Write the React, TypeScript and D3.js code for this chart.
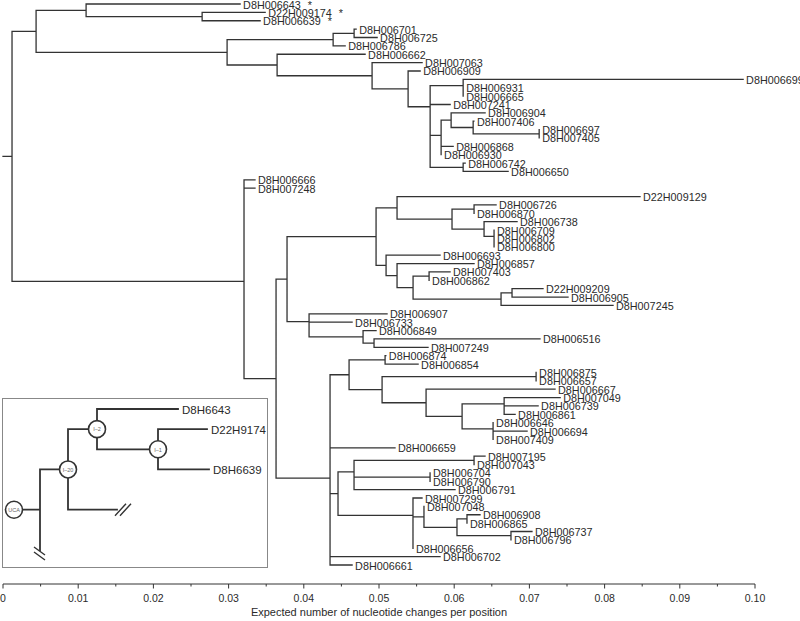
import React from "react";
import * as d3 from "d3";

// [node id, parent id, branch length (substitutions / site)]; internal node ids start with "_"
const treeNodes: [string, string, number][] = [
  ["_root", "", 0],
  ["_n0", "_root", 0.0012],
  ["_a", "_n0", 0.0032],
  ["_b", "_a", 0.00665],
  ["D8H006643", "_b", 0.02048],
  ["_c", "_b", 0.01543],
  ["D22H009174", "_c", 0.00838],
  ["D8H006639", "_c", 0.00771],
  ["_d", "_a", 0.0254],
  ["_e", "_d", 0.0141],
  ["_f", "_e", 0.00279],
  ["D8H006701", "_f", 0.00027],
  ["D8H006725", "_f", 0.00306],
  ["D8H006786", "_e", 0.0016],
  ["_g", "_d", 0.00665],
  ["D8H006662", "_g", 0.0117],
  ["_h", "_g", 0.01263],
  ["D8H007063", "_h", 0.00665],
  ["_i", "_h", 0.00479],
  ["D8H006909", "_i", 0.0016],
  ["_j", "_i", 0.00293],
  ["_k", "_j", 0.00439],
  ["D8H006699", "_k", 0.03723],
  ["_l", "_k", 0],
  ["D8H006931", "_l", 0],
  ["D8H006665", "_l", 0],
  ["_j2", "_j", 0],
  ["D8H007241", "_j2", 0.00266],
  ["_j3", "_j2", 0],
  ["_m", "_j3", 0.00146],
  ["_n", "_m", 0.00133],
  ["D8H006904", "_n", 0.00452],
  ["_o", "_n", 0.00293],
  ["D8H007406", "_o", 0.0001],
  ["_p", "_o", 0.00878],
  ["D8H006697", "_p", 0],
  ["D8H007405", "_p", 0],
  ["_m2", "_m", 0],
  ["D8H006868", "_m2", 0.0016],
  ["D8H006930", "_m2", 0],
  ["_q", "_j3", 0.00439],
  ["D8H006742", "_q", 0.00027],
  ["D8H006650", "_q", 0.00598],
  ["_r", "_n0", 0.03085],
  ["_r1", "_r", 0],
  ["D8H006666", "_r1", 0.00146],
  ["D8H007248", "_r1", 0.00146],
  ["_t", "_r", 0.00426],
  ["_u", "_t", 0.00146],
  ["_w", "_u", 0.01184],
  ["_w1", "_w", 0.00279],
  ["D22H009129", "_w1", 0.03231],
  ["_w1b", "_w1", 0.00731],
  ["_w1b1", "_w1b", 0.00293],
  ["D8H006726", "_w1b1", 0.00293],
  ["D8H006870", "_w1b1", 0],
  ["_w1b2", "_w1b", 0.00426],
  ["D8H006738", "_w1b2", 0.00439],
  ["_w1b2b", "_w1b2", 0.00133],
  ["D8H006709", "_w1b2b", 0],
  ["_w1b2c", "_w1b2b", 0],
  ["D8H006802", "_w1b2c", 0],
  ["D8H006800", "_w1b2c", 0],
  ["_w2", "_w", 0.00133],
  ["D8H006693", "_w2", 0.00718],
  ["_w2b", "_w2", 0.00146],
  ["D8H006857", "_w2b", 0.01024],
  ["_w2b2", "_w2b", 0.00213],
  ["_w2b2a", "_w2b2", 0.00213],
  ["D8H007403", "_w2b2a", 0.00279],
  ["D8H006862", "_w2b2a", 0],
  ["_w2b2b", "_w2b2", 0.0117],
  ["_w2b2b1", "_w2b2b", 0.00146],
  ["D22H009209", "_w2b2b1", 0.00412],
  ["D8H006905", "_w2b2b1", 0.00745],
  ["D8H007245", "_w2b2b", 0.01489],
  ["_x", "_u", 0.00293],
  ["D8H006907", "_x", 0.01037],
  ["_x0", "_x", 0],
  ["D8H006733", "_x0", 0.00572],
  ["_x1", "_x0", 0.00718],
  ["D8H006849", "_x1", 0.00173],
  ["_x2", "_x1", 0.00146],
  ["D8H006516", "_x2", 0.02207],
  ["D8H007249", "_x2", 0.00718],
  ["_v", "_t", 0.00718],
  ["_va", "_v", 0],
  ["_v1", "_va", 0.00253],
  ["_v1a", "_v1", 0.00479],
  ["D8H006874", "_v1a", 0.0001],
  ["D8H006854", "_v1a", 0.00439],
  ["_v1b", "_v1", 0.00439],
  ["_v1b1", "_v1b", 0.02048],
  ["D8H006875", "_v1b1", 0],
  ["D8H006657", "_v1b1", 0],
  ["_v1b2", "_v1b", 0.00585],
  ["D8H006667", "_v1b2", 0.01715],
  ["_v1b2b", "_v1b2", 0.00479],
  ["_v1b2b1", "_v1b2b", 0.00559],
  ["D8H007049", "_v1b2b1", 0.00745],
  ["_v1b2b1x", "_v1b2b1", 0],
  ["D8H006739", "_v1b2b1x", 0.00452],
  ["D8H006861", "_v1b2b1x", 0.00146],
  ["_v1b2b2", "_v1b2b", 0.00412],
  ["D8H006646", "_v1b2b2", 0],
  ["_v1b2b2x", "_v1b2b2", 0],
  ["D8H006694", "_v1b2b2x", 0.00452],
  ["D8H007409", "_v1b2b2x", 0],
  ["D8H006659", "_va", 0.00864],
  ["_vb", "_v", 0],
  ["_vc", "_vb", 0],
  ["_v2", "_vc", 0.00106],
  ["_v2a", "_v2", 0.00213],
  ["_v2a1", "_v2a", 0.01596],
  ["D8H007195", "_v2a1", 0.00146],
  ["D8H007043", "_v2a1", 0],
  ["_v2ax", "_v2a", 0],
  ["_v2a2", "_v2ax", 0.01011],
  ["D8H006704", "_v2a2", 0],
  ["D8H006790", "_v2a2", 0],
  ["D8H006791", "_v2ax", 0.01343],
  ["_v2b", "_v2", 0.00997],
  ["D8H007299", "_v2b", 0.0012],
  ["_v2bx", "_v2b", 0],
  ["_v2b2", "_v2bx", 0.00146],
  ["D8H007048", "_v2b2", 0],
  ["_v2b2b", "_v2b2", 0.00439],
  ["_v2b2b1", "_v2b2b", 0.00133],
  ["D8H006908", "_v2b2b1", 0.00173],
  ["D8H006865", "_v2b2b1", 0],
  ["_v2b2b2", "_v2b2b", 0.00718],
  ["D8H006737", "_v2b2b2", 0.00279],
  ["D8H006796", "_v2b2b2", 0],
  ["D8H006656", "_v2bx", 0],
  ["D8H006702", "_vc", 0.01463],
  ["D8H006661", "_vb", 0.00293],
];

const starredLeaves = ["D8H006643", "D22H009174", "D8H006639"];

const majorTicks = [0, 0.01, 0.02, 0.03, 0.04, 0.05, 0.06, 0.07, 0.08, 0.09, 0.1];
const majorTickLabels = ["0", "0.01", "0.02", "0.03", "0.04", "0.05", "0.06", "0.07", "0.08", "0.09", "0.10"];
const minorTicks = [0.005, 0.015, 0.025, 0.035, 0.045, 0.055, 0.065, 0.075, 0.085, 0.095];
const axisTitle = "Expected number of nucleotide changes per position";

// inset schematic: [id, parent, depth (schematic units), row, kind]
const insetNodes: [string, string | null, number, number, string][] = [
  ["UCA", null, 0, 5, "circle"],
  ["j0", "UCA", 26, 5, "joint"],
  ["I\u201320", "j0", 54, 3, "circle"],
  ["cut0", "j0", 26, 7, "cutV"],
  ["I\u20132", "I\u201320", 83, 1, "circle"],
  ["cut1", "I\u201320", 103, 5, "cutH"],
  ["D8H6643", "I\u20132", 164, 0, "leaf"],
  ["I\u20131", "I\u20132", 144, 2, "circle"],
  ["D22H9174", "I\u20131", 193, 1, "leaf"],
  ["D8H6639", "I\u20131", 195, 3, "leaf"],
];

const FONT = "'Liberation Sans', Arial, Helvetica, sans-serif";
const INK = "#333";

export default function App() {
  const W = 800;
  const H = 621;
  const x = d3.scaleLinear().domain([0, 0.1]).range([3, 755]);

  const root: any = d3
    .stratify<[string, string, number]>()
    .id((d) => d[0])
    .parentId((d) => (d[1] ? d[1] : null))(treeNodes);

  root.eachBefore((n: any) => {
    n.dist = n.parent ? n.parent.dist + n.data[2] : 0;
  });
  const leaves = root.leaves();
  const y = d3.scaleLinear().domain([0, leaves.length - 1]).range([4, 565]);
  leaves.forEach((l: any, i: number) => (l.yv = y(i)));
  root.eachAfter((n: any) => {
    if (n.children) {
      n.yv = (n.children[0].yv + n.children[n.children.length - 1].yv) / 2;
    }
  });

  let treePath = "";
  root.each((n: any) => {
    if (n.parent && n.dist > n.parent.dist) {
      treePath += `M${x(n.parent.dist)},${n.yv}H${x(n.dist)}`;
    }
    if (n.children && n.children.length > 1) {
      const c0 = n.children[0];
      const c1 = n.children[n.children.length - 1];
      treePath += `M${x(n.dist)},${c0.yv}V${c1.yv}`;
    }
  });

  // inset
  const ix = d3.scaleLinear().domain([0, 200]).range([14, 214]);
  const iy = d3.scaleLinear().domain([0, 7]).range([409, 550]);
  const iroot: any = d3
    .stratify<[string, string | null, number, number, string]>()
    .id((d) => d[0])
    .parentId((d) => d[1])(insetNodes);
  let insetPath = "";
  const slashes: string[] = [];
  iroot.each((n: any) => {
    const [, , depth, row, kind] = n.data;
    if (n.parent) {
      const pd = n.parent.data;
      if (depth > pd[2]) insetPath += `M${ix(pd[2])},${iy(row)}H${ix(depth)}`;
    }
    if (n.children) {
      const rows = n.children.map((c: any) => c.data[3]).concat([row]);
      insetPath += `M${ix(depth)},${iy(d3.min(rows) as number)}V${iy(d3.max(rows) as number)}`;
    }
    if (kind === "cutH") {
      const xe = ix(depth);
      const ye = iy(row);
      slashes.push(`M${xe - 2},${ye + 6}L${xe + 9},${ye - 6}M${xe + 3},${ye + 6}L${xe + 14},${ye - 6}`);
    }
    if (kind === "cutV") {
      const xe = ix(depth);
      const ye = iy(row);
      slashes.push(`M${xe - 6},${ye - 3}L${xe + 5},${ye + 5}M${xe - 6},${ye + 2}L${xe + 5},${ye + 10}`);
    }
  });
  const insetCircles = iroot.descendants().filter((n: any) => n.data[4] === "circle");
  const insetLeaves = iroot.descendants().filter((n: any) => n.data[4] === "leaf");

  const axisY = 584;

  return (
    <svg
      width={W}
      height={H}
      style={{ position: "absolute", left: 0, top: 0, background: "#fff" }}
      fontFamily={FONT}
    >
      <rect x={0} y={0} width={W} height={H} fill="#fff" />
      <path d={treePath} fill="none" stroke={INK} strokeWidth={1.3} strokeLinecap="square" />
      {leaves.map((l: any) => (
        <text
          key={l.id}
          x={x(l.dist) + 3}
          y={l.yv + 0.5}
          fontSize={10.8}
          fill="#2a2a2a"
          dominantBaseline="central"
        >
          {l.id}
          {starredLeaves.includes(l.id) ? <tspan dx={7}>*</tspan> : null}
        </text>
      ))}

      {/* inset */}
      <rect x={2.5} y={398.5} width={265} height={169} fill="none" stroke="#888" strokeWidth={1} />
      <path d={insetPath} fill="none" stroke={INK} strokeWidth={1.8} strokeLinecap="square" />
      {slashes.map((s, i) => (
        <path key={i} d={s} fill="none" stroke={INK} strokeWidth={1.4} />
      ))}
      {insetCircles.map((n: any) => (
        <g key={n.id}>
          <circle cx={ix(n.data[2])} cy={iy(n.data[3])} r={8.5} fill="#fff" stroke={INK} strokeWidth={1.6} />
          <text
            x={ix(n.data[2])}
            y={iy(n.data[3]) + 0.3}
            fontSize={5.5}
            fill="#666"
            textAnchor="middle"
            dominantBaseline="central"
          >
            {n.id}
          </text>
        </g>
      ))}
      {insetLeaves.map((n: any) => (
        <text
          key={n.id}
          x={ix(n.data[2]) + 4}
          y={iy(n.data[3]) + 0.5}
          fontSize={11.5}
          fill="#2a2a2a"
          dominantBaseline="central"
        >
          {n.id}
        </text>
      ))}

      {/* axis */}
      <line x1={x(0)} x2={x(0.1)} y1={axisY} y2={axisY} stroke={INK} strokeWidth={1} />
      {majorTicks.map((t, i) => (
        <g key={"M" + i}>
          <line x1={x(t)} x2={x(t)} y1={axisY} y2={axisY + 4.5} stroke={INK} strokeWidth={1} />
          <text x={x(t)} y={axisY + 14} fontSize={10.5} fill="#2a2a2a" textAnchor="middle" dominantBaseline="central">
            {majorTickLabels[i]}
          </text>
        </g>
      ))}
      {minorTicks.map((t, i) => (
        <line key={"m" + i} x1={x(t)} x2={x(t)} y1={axisY} y2={axisY + 2.5} stroke={INK} strokeWidth={1} />
      ))}
      <text x={x(0.05)} y={axisY + 28} fontSize={11} fill="#2a2a2a" textAnchor="middle" dominantBaseline="central">
        {axisTitle}
      </text>
    </svg>
  );
}
